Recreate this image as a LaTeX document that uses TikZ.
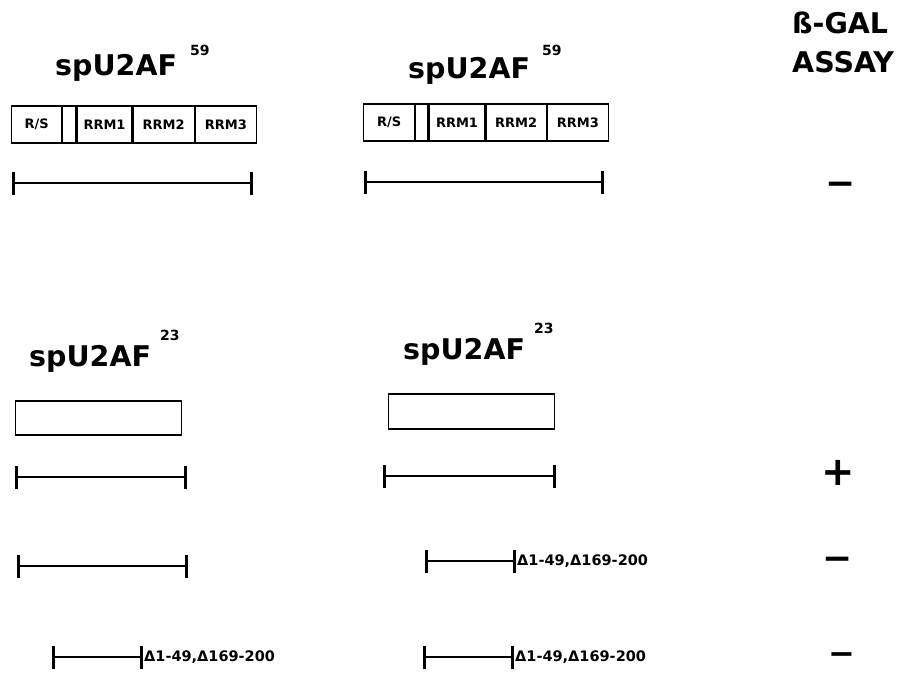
\documentclass[tikz,border=0pt]{standalone}
\usepackage{fontspec}
\setmainfont{DejaVu Sans}
\usetikzlibrary{arrows.meta, positioning}

\tikzset{
  heading/.style={font=\bfseries\fontsize{28.5}{30}\selectfont, inner sep=0pt, anchor=base west},
  supnum/.style={font=\bfseries\fontsize{14}{15}\selectfont, inner sep=0pt, anchor=base west},
  dombox/.style={draw, line width=1.2pt, minimum height=37pt, inner sep=0pt,
                 font=\bfseries\fontsize{13}{14}\selectfont},
  protbox/.style={draw, line width=1.4pt, minimum width=166pt, inner sep=0pt},
  construct/.style={line width=1.7pt, {Bar[width=23pt,line width=3.2pt]}-{Bar[width=23pt,line width=3.2pt]}},
  deletion/.style={font=\bfseries\fontsize{14.5}{16}\selectfont, inner sep=1pt, anchor=west},
  assayres/.style={font=\bfseries\fontsize{36}{36}\selectfont, inner sep=0pt},
  minusres/.style={assayres, text height=0.4em, text depth=0pt},
}

\begin{document}
\begin{tikzpicture}[x=1pt, y=-1pt]
\useasboundingbox (0,0) rectangle (901,673);
% headings
\node[heading] (ttl59a) at (55,75) {spU2AF};
\node[supnum] (sup59a) at (190,55) {59};
\node[heading] (ttl59b) at (408,78) {spU2AF};
\node[supnum] (sup59b) at (542,55) {59};
\node[heading] (gal) at (792,33) {ß-GAL};
\node[heading] (assay) at (792,72) {ASSAY};
\node[heading] (ttl23a) at (29,366) {spU2AF};
\node[supnum] (sup23a) at (160,340) {23};
\node[heading] (ttl23b) at (403,359) {spU2AF};
\node[supnum] (sup23b) at (534,333) {23};
% spU2AF59 domains, left
\node[dombox, minimum width=50pt, anchor=west] (rsa) at (11,124.5) {R/S};
\node[dombox, minimum width=13pt, right=0pt of rsa] (gapa) {};
\node[dombox, minimum width=55pt, right=0pt of gapa] (rrm1a) {RRM1};
\node[dombox, minimum width=61pt, right=0pt of rrm1a] (rrm2a) {RRM2};
\node[dombox, minimum width=61pt, right=0pt of rrm2a] (rrm3a) {RRM3};
% spU2AF59 domains, right
\node[dombox, minimum width=51pt, anchor=west] (rsb) at (363,122.5) {R/S};
\node[dombox, minimum width=12pt, right=0pt of rsb] (gapb) {};
\node[dombox, minimum width=56pt, right=0pt of gapb] (rrm1b) {RRM1};
\node[dombox, minimum width=60pt, right=0pt of rrm1b] (rrm2b) {RRM2};
\node[dombox, minimum width=61pt, right=0pt of rrm2b] (rrm3b) {RRM3};
% spU2AF23 boxes
\node[protbox, minimum height=34pt, anchor=west] (boxa) at (15,418) {};
\node[protbox, minimum height=35pt, anchor=west] (boxb) at (388,411.5) {};
% constructs
\coordinate (l1a) at (12,183);  \coordinate (r1a) at (253,183);
\coordinate (l1b) at (364,182); \coordinate (r1b) at (604,182);
\coordinate (l2a) at (15,477);  \coordinate (r2a) at (187,477);
\coordinate (l2b) at (383,476); \coordinate (r2b) at (556,476);
\coordinate (l3a) at (17,566);  \coordinate (r3a) at (188,566);
\coordinate (l3b) at (425,561); \coordinate (r3b) at (516,561);
\coordinate (l4a) at (52,657);  \coordinate (r4a) at (143,657);
\coordinate (l4b) at (423,657); \coordinate (r4b) at (514,657);
\draw[construct] (l1a) -- (r1a);
\draw[construct] (l1b) -- (r1b);
\draw[construct] (l2a) -- (r2a);
\draw[construct] (l2b) -- (r2b);
\draw[construct] (l3a) -- (r3a);
\draw[construct] (l3b) -- (r3b);
\draw[construct] (l4a) -- (r4a);
\draw[construct] (l4b) -- (r4b);
\node[deletion] (del3b) at (r3b) {Δ1-49,Δ169-200};
\node[deletion] (del4a) at (r4a) {Δ1-49,Δ169-200};
\node[deletion] (del4b) at (r4b) {Δ1-49,Δ169-200};
% assay results
\node[minusres] (res1) at (841,193.6) {−};
\node[assayres, font=\bfseries\fontsize{40}{40}\selectfont] (res2) at (838,473) {+};
\node[minusres] (res3) at (838,568.6) {−};
\node[minusres, font=\bfseries\fontsize{32}{32}\selectfont] (res4) at (842,662) {−};
\end{tikzpicture}
\end{document}
